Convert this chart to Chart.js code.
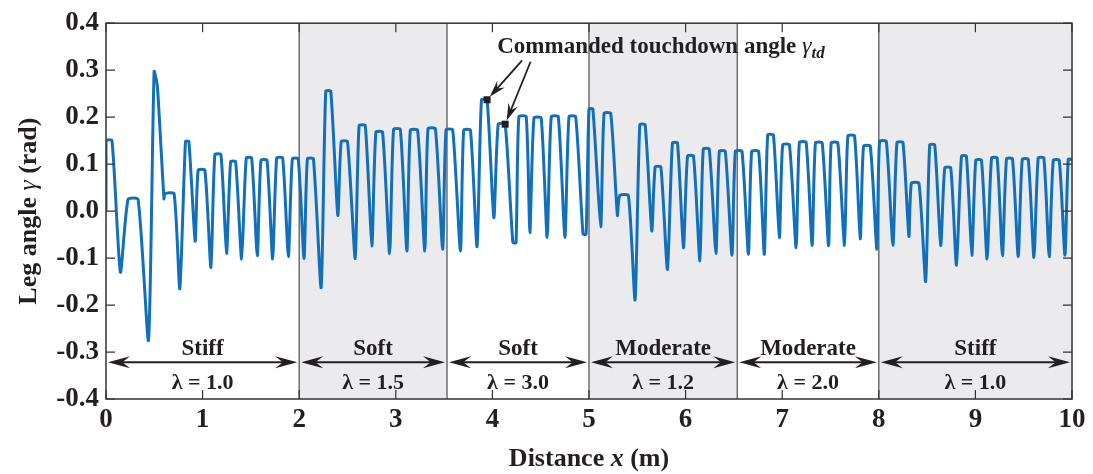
<!DOCTYPE html>
<html>
<head>
<meta charset="utf-8">
<script src="https://cdn.jsdelivr.net/npm/chart.js@4.4.1/dist/chart.umd.min.js"></script>
<style>
  html, body { margin: 0; padding: 0; background: #fff; }
  #wrap { width: 1093px; height: 474px; }
</style>
</head>
<body>
<div id="wrap"><canvas id="chart"></canvas></div>
<script>
// leg angle trace (distance in m, angle in rad)
const distance = [
  0, 0, 0.062, 0.149, 0.228, 0.332, 0.44, 0.498, 0.532, 0.60, 0.61, 0.705, 0.764, 0.823, 0.858,
  0.923, 0.954, 1.024, 1.086, 1.127, 1.19, 1.248, 1.29, 1.342, 1.404, 1.452, 1.508, 1.566, 1.604,
  1.667, 1.725, 1.767, 1.829, 1.888, 1.929, 1.99, 2.05, 2.085, 2.147, 2.227, 2.275, 2.327, 2.40,
  2.435, 2.50, 2.58, 2.62, 2.684, 2.752, 2.794, 2.863, 2.936, 2.977, 3.047, 3.115, 3.15, 3.226,
  3.30, 3.333, 3.41, 3.485, 3.52, 3.589, 3.669, 3.703, 3.773, 3.841, 3.887, 3.945, 4.015, 4.06,
  4.132, 4.212, 4.245, 4.274, 4.35, 4.388, 4.43, 4.505, 4.567, 4.609, 4.682, 4.751, 4.793, 4.862,
  4.938, 4.97, 5.0, 5.04, 5.121, 5.156, 5.225, 5.294, 5.318, 5.408, 5.477, 5.526, 5.581, 5.65,
  5.685, 5.744, 5.812, 5.864, 5.916, 5.978, 6.02, 6.082, 6.148, 6.183, 6.245, 6.314, 6.349, 6.411,
  6.48, 6.515, 6.584, 6.65, 6.684, 6.756, 6.815, 6.85, 6.909, 6.971, 7.005, 7.075, 7.144, 7.178,
  7.248, 7.31, 7.344, 7.414, 7.48, 7.507, 7.576, 7.645, 7.68, 7.749, 7.808, 7.842, 7.912, 7.98,
  8.008, 8.078, 8.146, 8.188, 8.25, 8.312, 8.337, 8.416, 8.485, 8.527, 8.579, 8.641, 8.683, 8.745,
  8.804, 8.856, 8.907, 8.963, 9.004, 9.063, 9.121, 9.167, 9.225, 9.28, 9.322, 9.384, 9.443, 9.485,
  9.547, 9.606, 9.65, 9.709, 9.764, 9.806, 9.868, 9.927, 9.961, 10
];
const legAngle = [
  0, 0.15, 0.15, -0.13, 0.025, 0.025, -0.275, 0.297, 0.265, 0.026, 0.037, 0.037, -0.165, 0.148, 0.148,
  -0.064, 0.087, 0.087, -0.12, 0.12, 0.12, -0.09, 0.105, 0.105, -0.102, 0.113, 0.113, -0.095, 0.108,
  0.108, -0.102, 0.113, 0.113, -0.097, 0.111, 0.111, -0.101, 0.111, 0.111, -0.163, 0.255, 0.255, -0.009,
  0.148, 0.148, -0.101, 0.182, 0.182, -0.074, 0.168, 0.168, -0.09, 0.174, 0.174, -0.085, 0.172, 0.172,
  -0.085, 0.175, 0.175, -0.081, 0.173, 0.173, -0.085, 0.172, 0.172, -0.076, 0.237, 0.237, -0.014, 0.185,
  0.185, -0.067, -0.067, 0.201, 0.201, -0.046, 0.198, 0.198, -0.056, 0.201, 0.201, -0.056, 0.201, 0.201,
  -0.049, -0.049, 0.217, 0.217, -0.033, 0.208, 0.208, -0.009, 0.033, 0.033, -0.189, 0.184, 0.184, -0.042,
  0.094, 0.094, -0.124, 0.145, 0.145, -0.078, 0.117, 0.117, -0.106, 0.132, 0.132, -0.09, 0.127, 0.127,
  -0.094, 0.127, 0.127, -0.092, 0.127, 0.127, -0.092, 0.162, 0.162, -0.056, 0.141, 0.141, -0.078, 0.146,
  0.146, -0.073, 0.145, 0.145, -0.074, 0.145, 0.145, -0.073, 0.16, 0.16, -0.059, 0.138, 0.138, -0.081,
  0.148, 0.148, -0.073, 0.146, 0.146, -0.054, 0.059, 0.059, -0.15, 0.141, 0.141, -0.073, 0.092, 0.092,
  -0.115, 0.117, 0.117, -0.094, 0.108, 0.108, -0.102, 0.113, 0.113, -0.095, 0.111, 0.111, -0.097, 0.11,
  0.11, -0.099, 0.113, 0.113, -0.097, 0.108, 0.108, -0.094, 0.11, 0.11
];

// terrain segments
const regionEdges = [0, 2, 3.53, 5, 6.535, 8, 10];
const regionShaded = [false, true, false, true, false, true];
const regionNames = ["Stiff", "Soft", "Soft", "Moderate", "Moderate", "Stiff"];
const regionLambda = ["1.0", "1.5", "3.0", "1.2", "2.0", "1.0"];

// commanded touchdown points marked with arrows
const markerX = [3.945, 4.132];
const markerY = [0.237, 0.185];
const arrowFromX = [4.308, 4.395];
const arrowFromY = [0.321, 0.318];

const xTicks = [0, 1, 2, 3, 4, 5, 6, 7, 8, 9, 10];
const yTicks = [-0.4, -0.3, -0.2, -0.1, 0, 0.1, 0.2, 0.3, 0.4];

const serif = '"Liberation Serif", "Times New Roman", serif';
const ink = "#231f20";

function arrowHead(ctx, fx, fy, tx, ty, len, half) {
  const ang = Math.atan2(ty - fy, tx - fx);
  ctx.save();
  ctx.translate(tx, ty);
  ctx.rotate(ang);
  ctx.beginPath();
  ctx.moveTo(0, 0);
  ctx.lineTo(-len, -half);
  ctx.lineTo(-len * 0.65, 0);
  ctx.lineTo(-len, half);
  ctx.closePath();
  ctx.fill();
  ctx.restore();
}

const decor = {
  id: "decor",
  beforeDatasetsDraw(chart) {
    const { ctx, chartArea: a, scales: { x } } = chart;
    ctx.save();
    ctx.fillStyle = "#ebebee";
    for (let i = 0; i < regionShaded.length; i++) {
      if (!regionShaded[i]) continue;
      const x0 = x.getPixelForValue(regionEdges[i]);
      const x1 = x.getPixelForValue(regionEdges[i + 1]);
      ctx.fillRect(x0, a.top, x1 - x0, a.bottom - a.top);
    }
    ctx.strokeStyle = "#6d6e71";
    ctx.lineWidth = 1.5;
    for (let i = 1; i < regionEdges.length - 1; i++) {
      const px = x.getPixelForValue(regionEdges[i]);
      ctx.beginPath();
      ctx.moveTo(px, a.top);
      ctx.lineTo(px, a.bottom);
      ctx.stroke();
    }
    ctx.restore();
  },
  afterDatasetsDraw(chart) {
    const { ctx, chartArea: a, scales: { x, y } } = chart;
    ctx.save();

    // box and inward ticks on all four sides
    ctx.strokeStyle = "#333";
    ctx.lineWidth = 1.5;
    ctx.strokeRect(a.left, a.top, a.right - a.left, a.bottom - a.top);
    ctx.lineWidth = 1.2;
    ctx.beginPath();
    xTicks.forEach((v) => {
      const px = x.getPixelForValue(v);
      ctx.moveTo(px, a.bottom); ctx.lineTo(px, a.bottom - 9);
      ctx.moveTo(px, a.top); ctx.lineTo(px, a.top + 9);
    });
    yTicks.forEach((v) => {
      const py = y.getPixelForValue(v);
      ctx.moveTo(a.left, py); ctx.lineTo(a.left + 9, py);
      ctx.moveTo(a.right, py); ctx.lineTo(a.right - 9, py);
    });
    ctx.stroke();

    // segment arrows and labels
    ctx.fillStyle = ink;
    ctx.strokeStyle = ink;
    const ay = y.getPixelForValue(-0.322);
    for (let i = 0; i < regionNames.length; i++) {
      const x0 = x.getPixelForValue(regionEdges[i]) + 2;
      const x1 = x.getPixelForValue(regionEdges[i + 1]) - 2;
      ctx.lineWidth = 2;
      ctx.beginPath();
      ctx.moveTo(x0 + 8, ay);
      ctx.lineTo(x1 - 8, ay);
      ctx.stroke();
      arrowHead(ctx, x1 - 22, ay, x1, ay, 22, 6);
      arrowHead(ctx, x0 + 22, ay, x0, ay, 22, 6);
      const cx = (x0 + x1) / 2;
      ctx.textAlign = "center";
      ctx.textBaseline = "middle";
      ctx.font = "bold 23px " + serif;
      ctx.fillText(regionNames[i], cx, y.getPixelForValue(-0.293));
      ctx.font = "bold 22px " + serif;
      ctx.fillText("\u03bb = " + regionLambda[i], cx, y.getPixelForValue(-0.366));
    }

    // touchdown annotation
    ctx.lineWidth = 1.8;
    for (let i = 0; i < markerX.length; i++) {
      const fx = x.getPixelForValue(arrowFromX[i]);
      const fy = y.getPixelForValue(arrowFromY[i]);
      const tx = x.getPixelForValue(markerX[i]);
      const ty = y.getPixelForValue(markerY[i]);
      const ang = Math.atan2(ty - fy, tx - fx);
      const ex = tx - Math.cos(ang) * 4, ey = ty - Math.sin(ang) * 4;
      ctx.beginPath();
      ctx.moveTo(fx, fy);
      ctx.lineTo(ex - Math.cos(ang) * 10, ey - Math.sin(ang) * 10);
      ctx.stroke();
      arrowHead(ctx, fx, fy, ex, ey, 17, 5);
      ctx.fillRect(tx - 3.5, ty - 3.5, 7, 7);
    }
    ctx.textAlign = "left";
    ctx.textBaseline = "alphabetic";
    let tx = x.getPixelForValue(4.05);
    const tyb = 53;
    ctx.font = "bold 23px " + serif;
    const main = "Commanded touchdown angle ";
    ctx.fillText(main, tx, tyb);
    tx += ctx.measureText(main).width;
    ctx.font = "italic 24px " + serif;
    ctx.fillText("\u03b3", tx, tyb);
    tx += ctx.measureText("\u03b3").width;
    ctx.font = "bold italic 17px " + serif;
    ctx.fillText("td", tx, tyb + 5);

    ctx.restore();
  },
  afterDraw(chart) {
    const { ctx, chartArea: a } = chart;
    ctx.save();
    ctx.fillStyle = ink;
    ctx.textBaseline = "middle";
    ctx.textAlign = "left";

    // x axis title
    const parts = [
      ["bold 26px " + serif, "Distance "],
      ["bold italic 26px " + serif, "x"],
      ["bold 26px " + serif, " (m)"],
    ];
    let w = 0;
    parts.forEach(([f, t]) => { ctx.font = f; w += ctx.measureText(t).width; });
    let px = (a.left + a.right) / 2 - w / 2;
    parts.forEach(([f, t]) => { ctx.font = f; ctx.fillText(t, px, 459); px += ctx.measureText(t).width; });

    // y axis title
    const yparts = [
      ["bold 26px " + serif, "Leg angle "],
      ["italic 26px " + serif, "\u03b3"],
      ["bold 26px " + serif, " (rad)"],
    ];
    w = 0;
    yparts.forEach(([f, t]) => { ctx.font = f; w += ctx.measureText(t).width; });
    ctx.translate(29, (a.top + a.bottom) / 2);
    ctx.rotate(-Math.PI / 2);
    px = -w / 2;
    yparts.forEach(([f, t]) => { ctx.font = f; ctx.fillText(t, px, 0); px += ctx.measureText(t).width; });
    ctx.restore();
  },
};

new Chart(document.getElementById("chart"), {
  type: "line",
  data: {
    datasets: [
      {
        label: "Leg angle",
        data: distance.map((d, i) => ({ x: d, y: legAngle[i] })),
        borderColor: "#1170b9",
        borderWidth: 3,
        borderJoinStyle: "round",
        pointRadius: 0,
        tension: 0.2,
        fill: false,
      },
    ],
  },
  options: {
    responsive: true,
    maintainAspectRatio: false,
    animation: false,
    layout: { padding: { top: 23, right: 21, left: 0, bottom: 0 } },
    plugins: {
      legend: { display: false },
      tooltip: { enabled: false },
    },
    scales: {
      x: {
        type: "linear",
        min: 0,
        max: 10,
        afterFit(scale) { scale.height = 75; },
        afterBuildTicks(scale) { scale.ticks = xTicks.map((v) => ({ value: v })); },
        grid: { display: false, drawTicks: false },
        border: { display: false },
        ticks: {
          padding: 5,
          color: ink,
          font: { family: serif, size: 27, weight: "bold" },
          maxRotation: 0,
          autoSkip: false,
        },
      },
      y: {
        min: -0.4,
        max: 0.4,
        afterFit(scale) { scale.width = 106; },
        afterBuildTicks(scale) { scale.ticks = yTicks.map((v) => ({ value: v })); },
        grid: { display: false, drawTicks: false },
        border: { display: false },
        ticks: {
          padding: 7,
          color: ink,
          font: { family: serif, size: 27, weight: "bold" },
          autoSkip: false,
          callback: (v) => (Math.abs(v) < 1e-9 ? "0.0" : v.toFixed(1)),
        },
      },
    },
  },
  plugins: [decor],
});
</script>
</body>
</html>
